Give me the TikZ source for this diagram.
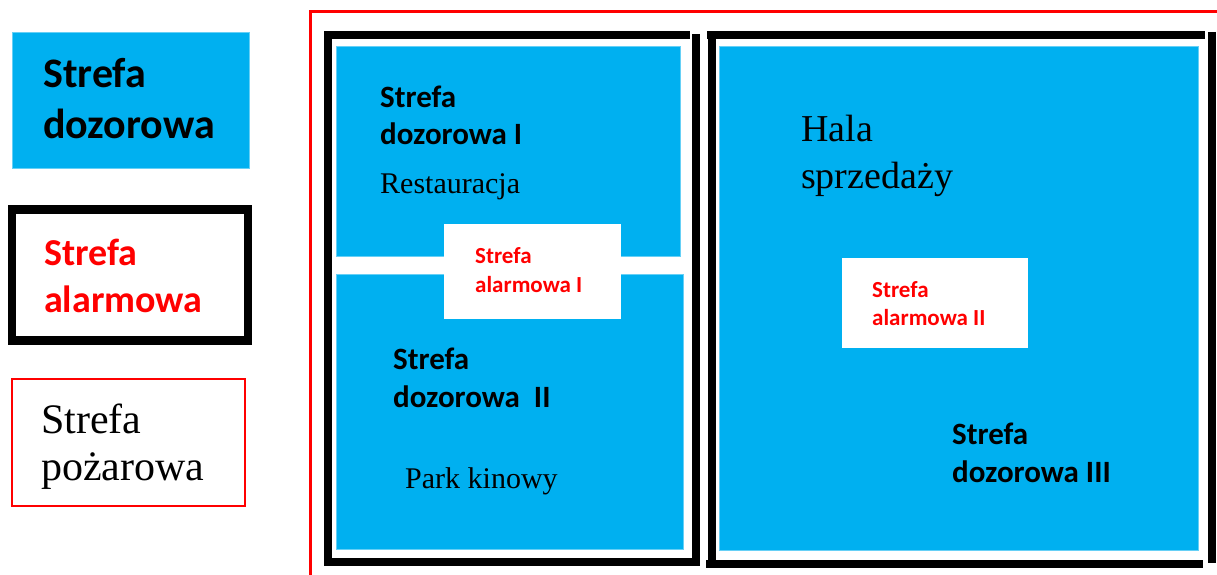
\documentclass[tikz,border=0pt]{standalone}
\usepackage{fontspec}
\setmainfont{Liberation Serif}
\newfontfamily\carl{Carlito}
\definecolor{zblue}{HTML}{00B0F0}
\definecolor{zred}{HTML}{FF0000}
\tikzset{
  bluezone/.style={fill=zblue, draw=zblue!60!white, line width=0.8pt},
  whitezone/.style={fill=white, draw=none},
  alarmframe/.style={draw=black, line width=8pt},
  fireframe/.style={draw=zred, line width=3pt},
  txt/.style={anchor=base west, inner sep=0pt},
}
\newcommand{\fs}[1]{\fontsize{#1}{#1}\selectfont}
\begin{document}
\begin{tikzpicture}[x=1pt,y=-1pt]
\useasboundingbox (0,0) rectangle (1217,575);
% ---------- legend ----------
\node[bluezone, minimum width=237, minimum height=136, anchor=north west, inner sep=0pt] (legblue) at (12,32) {};
\node[txt] (lb1) at (43,88) {\carl\bfseries\fs{42}Strefa};
\node[txt] (lb2) at (43,139) {\carl\bfseries\fs{42}dozorowa};

\draw[alarmframe, line width=8.5pt] (12,209.5) rectangle (248,340.5);
\node[txt, text=zred] (la1) at (44,265) {\carl\bfseries\fs{38}Strefa};
\node[txt, text=zred] (la2) at (44,312) {\carl\bfseries\fs{38}alarmowa};

\draw[zred, line width=2.5pt] (12,379) rectangle (245,506);
\node[txt] (lf1) at (41,433) {\fs{42}Strefa};
\node[txt] (lf2) at (41,480) {\fs{42}pożarowa};

% ---------- fire zone (big red frame) ----------
\draw[fireframe] (310,600) -- (310,12) -- (1240,12);

% ---------- left alarm zone ----------
\fill[bluezone] (336,46) rectangle (680,256);
\fill[bluezone] (336,274) rectangle (683,549);
\fill[whitezone] (444,224) rectangle (621,319);
\draw[alarmframe] (324,35) -- (690,35);
\draw[alarmframe] (328,35) -- (328,562);
\draw[alarmframe] (324,562) -- (700,562);
\draw[alarmframe] (696,34) -- (696,566);

\node[txt] (d1a) at (380,107) {\carl\bfseries\fs{31}Strefa};
\node[txt] (d1b) at (380,144) {\carl\bfseries\fs{31}dozorowa I};
\node[txt] (rest) at (380,193) {\fs{30}Restauracja};
\node[txt, text=zred] (a1a) at (475,263) {\carl\bfseries\fs{23}Strefa};
\node[txt, text=zred] (a1b) at (475,292) {\carl\bfseries\fs{23}alarmowa I};
\node[txt] (d2a) at (393,369) {\carl\bfseries\fs{31}Strefa};
\node[txt] (d2b) at (393,407) {\carl\bfseries\fs{31}dozorowa\ \ II};
\node[txt] (park) at (405,488) {\fs{30}Park kinowy};

% ---------- right alarm zone ----------
\fill[bluezone] (719,46) rectangle (1198,550);
\fill[whitezone] (842,258) rectangle (1028,348);
\draw[alarmframe] (707,35) -- (1205,35);
\draw[alarmframe] (712,35) -- (712,568);
\draw[alarmframe] (706,564) -- (1203,564);
\draw[alarmframe] (1212,32) -- (1212,563);

\node[txt] (hala1) at (801,141) {\fs{38}Hala};
\node[txt] (hala2) at (801,188) {\fs{38}sprzedaży};
\node[txt, text=zred] (a2a) at (872,297) {\carl\bfseries\fs{23}Strefa};
\node[txt, text=zred] (a2b) at (872,325) {\carl\bfseries\fs{23}alarmowa II};
\node[txt] (d3a) at (952,444) {\carl\bfseries\fs{31}Strefa};
\node[txt] (d3b) at (952,482) {\carl\bfseries\fs{31}dozorowa III};
\end{tikzpicture}
\end{document}
